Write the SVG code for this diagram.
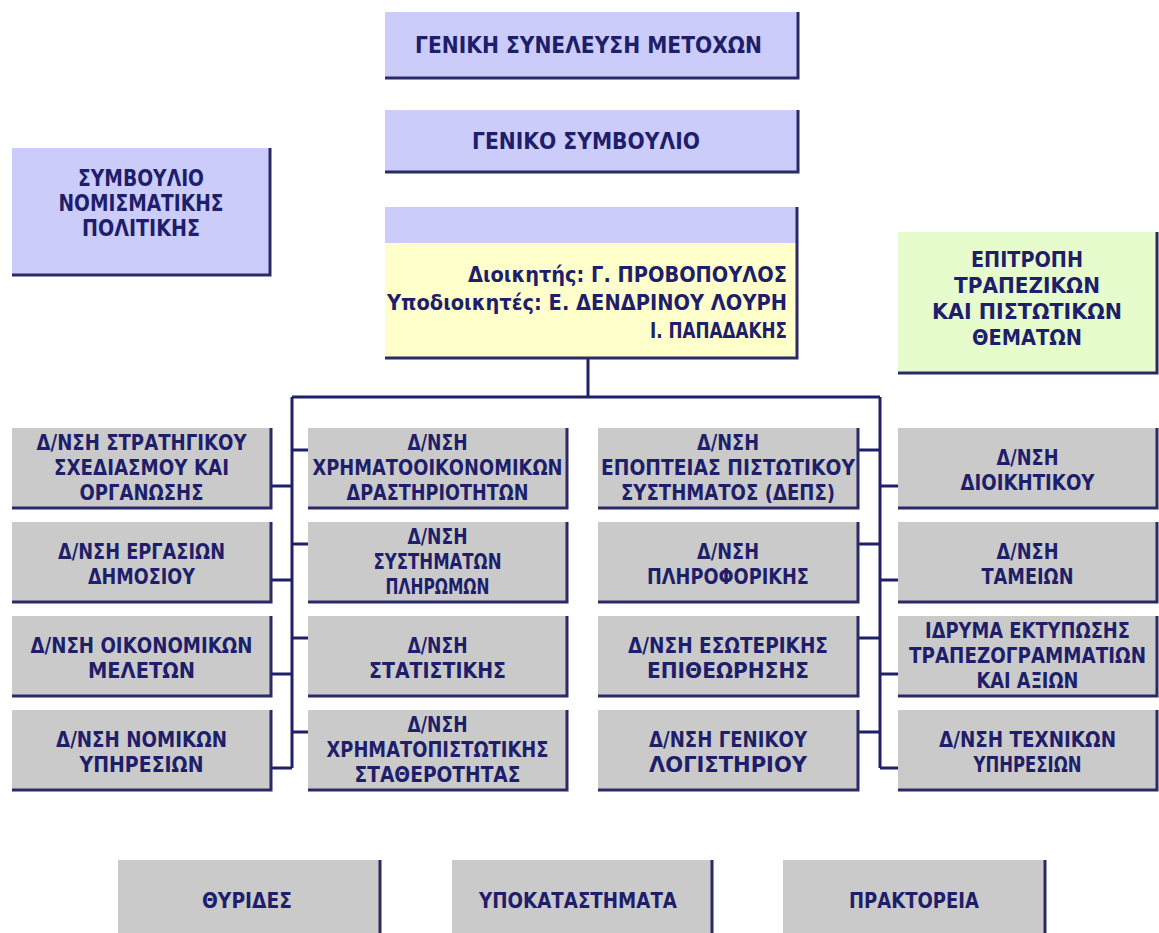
<svg xmlns="http://www.w3.org/2000/svg" width="1159" height="933" viewBox="0 0 1159 933">
<style>
.lav{fill:#ccccfb}
.gry{fill:#cacaca}
.yel{fill:#ffffcc}
.grn{fill:#e6fccd}
.sh{fill:none;stroke:#2a2a66;stroke-width:3}
.t{font-family:"DejaVu Sans","Liberation Sans",sans-serif;font-weight:bold;font-size:22px;fill:#1e1e6a}
.tb{font-size:23px}
.ts{font-size:21px}
.c{fill:none;stroke:#202068;stroke-width:3}
</style>
<rect width="1159" height="933" fill="#ffffff"/>

<g id="connectors">
<path class="c" d="M588,358 V397 M292,397 H880 M292,397 V768 M880,397 V768"/>
<path class="c" d="M271,486 H292 M271,580 H292 M271,674 H292 M271,768 H292"/>
<path class="c" d="M292,450 H308 M292,544 H308 M292,638 H308 M292,732 H308"/>
<path class="c" d="M858,450 H880 M858,544 H880 M858,638 H880 M858,732 H880"/>
<path class="c" d="M880,486 H898 M880,580 H898 M880,674 H898 M880,768 H898"/>
</g>

<g id="n-gsm">
<rect class="lav" x="385" y="12" width="413" height="66"/>
<path class="sh" d="M798,12 V78 H385"/>
<text class="t tb" x="415" y="53" textLength="347" lengthAdjust="spacingAndGlyphs">ΓΕΝΙΚΗ ΣΥΝΕΛΕΥΣΗ ΜΕΤΟΧΩΝ</text>
</g>

<g id="n-gs">
<rect class="lav" x="385" y="110" width="413" height="62"/>
<path class="sh" d="M798,110 V172 H385"/>
<text class="t tb" x="472" y="149" textLength="228" lengthAdjust="spacingAndGlyphs">ΓΕΝΙΚΟ ΣΥΜΒΟΥΛΙΟ</text>
</g>

<g id="n-snp">
<rect class="lav" x="12" y="148" width="258" height="127"/>
<path class="sh" d="M270,148 V275 H12"/>
<text class="t tb" x="78" y="186" textLength="126" lengthAdjust="spacingAndGlyphs">ΣΥΜΒΟΥΛΙΟ</text>
<text class="t tb" x="58.5" y="211" textLength="165" lengthAdjust="spacingAndGlyphs">ΝΟΜΙΣΜΑΤΙΚΗΣ</text>
<text class="t tb" x="82" y="236" textLength="118" lengthAdjust="spacingAndGlyphs">ΠΟΛΙΤΙΚΗΣ</text>
</g>

<g id="n-gov">
<rect class="yel" x="385" y="207" width="412" height="151"/>
<rect class="lav" x="385" y="207" width="412" height="36"/>
<path class="sh" d="M797,207 V358 H385"/>
<text class="t" x="468" y="282" textLength="319" lengthAdjust="spacingAndGlyphs">Διοικητής: Γ. ΠΡΟΒΟΠΟΥΛΟΣ</text>
<text class="t" x="387" y="310" textLength="400" lengthAdjust="spacingAndGlyphs">Υποδιοικητές: Ε. ΔΕΝΔΡΙΝΟΥ ΛΟΥΡΗ</text>
<text class="t" x="650" y="338" textLength="137" lengthAdjust="spacingAndGlyphs">Ι. ΠΑΠΑΔΑΚΗΣ</text>
</g>

<g id="n-epitr">
<rect class="grn" x="898" y="232" width="259" height="141"/>
<path class="sh" d="M1157,232 V373 H898"/>
<text class="t" x="971" y="267" textLength="112" lengthAdjust="spacingAndGlyphs">ΕΠΙΤΡΟΠΗ</text>
<text class="t" x="954" y="293" textLength="146" lengthAdjust="spacingAndGlyphs">ΤΡΑΠΕΖΙΚΩΝ</text>
<text class="t" x="932" y="319" textLength="190" lengthAdjust="spacingAndGlyphs">ΚΑΙ ΠΙΣΤΩΤΙΚΩΝ</text>
<text class="t" x="972" y="345" textLength="110" lengthAdjust="spacingAndGlyphs">ΘΕΜΑΤΩΝ</text>
</g>

<!-- column 1 -->
<g id="n-c1r1">
<rect class="gry" x="12" y="428" width="259" height="80"/>
<path class="sh" d="M271,428 V508 H12"/>
<text class="t" x="36.5" y="450" textLength="210" lengthAdjust="spacingAndGlyphs">Δ/ΝΣΗ ΣΤΡΑΤΗΓΙΚΟΥ</text>
<text class="t" x="54" y="475" textLength="175" lengthAdjust="spacingAndGlyphs">ΣΧΕΔΙΑΣΜΟΥ ΚΑΙ</text>
<text class="t" x="79.5" y="500" textLength="124" lengthAdjust="spacingAndGlyphs">ΟΡΓΑΝΩΣΗΣ</text>
</g>
<g id="n-c1r2">
<rect class="gry" x="12" y="522" width="259" height="80"/>
<path class="sh" d="M271,522 V602 H12"/>
<text class="t" x="58" y="559" textLength="167" lengthAdjust="spacingAndGlyphs">Δ/ΝΣΗ ΕΡΓΑΣΙΩΝ</text>
<text class="t" x="88" y="584" textLength="107" lengthAdjust="spacingAndGlyphs">ΔΗΜΟΣΙΟΥ</text>
</g>
<g id="n-c1r3">
<rect class="gry" x="12" y="616" width="259" height="80"/>
<path class="sh" d="M271,616 V696 H12"/>
<text class="t" x="30.5" y="653" textLength="222" lengthAdjust="spacingAndGlyphs">Δ/ΝΣΗ ΟΙΚΟΝΟΜΙΚΩΝ</text>
<text class="t" x="88" y="678" textLength="107" lengthAdjust="spacingAndGlyphs">ΜΕΛΕΤΩΝ</text>
</g>
<g id="n-c1r4">
<rect class="gry" x="12" y="710" width="259" height="80"/>
<path class="sh" d="M271,710 V790 H12"/>
<text class="t" x="56" y="747" textLength="171" lengthAdjust="spacingAndGlyphs">Δ/ΝΣΗ ΝΟΜΙΚΩΝ</text>
<text class="t" x="79.5" y="772" textLength="124" lengthAdjust="spacingAndGlyphs">ΥΠΗΡΕΣΙΩΝ</text>
</g>

<!-- column 2 -->
<g id="n-c2r1">
<rect class="gry" x="308" y="428" width="259" height="80"/>
<path class="sh" d="M567,428 V508 H308"/>
<text class="t" x="407.5" y="450" textLength="60" lengthAdjust="spacingAndGlyphs">Δ/ΝΣΗ</text>
<text class="t ts" x="312.5" y="475" textLength="250" lengthAdjust="spacingAndGlyphs">ΧΡΗΜΑΤΟΟΙΚΟΝΟΜΙΚΩΝ</text>
<text class="t" x="346.5" y="500" textLength="182" lengthAdjust="spacingAndGlyphs">ΔΡΑΣΤΗΡΙΟΤΗΤΩΝ</text>
</g>
<g id="n-c2r2">
<rect class="gry" x="308" y="522" width="259" height="80"/>
<path class="sh" d="M567,522 V602 H308"/>
<text class="t" x="407.5" y="544" textLength="60" lengthAdjust="spacingAndGlyphs">Δ/ΝΣΗ</text>
<text class="t" x="373.5" y="569" textLength="128" lengthAdjust="spacingAndGlyphs">ΣΥΣΤΗΜΑΤΩΝ</text>
<text class="t" x="385.5" y="594" textLength="104" lengthAdjust="spacingAndGlyphs">ΠΛΗΡΩΜΩΝ</text>
</g>
<g id="n-c2r3">
<rect class="gry" x="308" y="616" width="259" height="80"/>
<path class="sh" d="M567,616 V696 H308"/>
<text class="t" x="407.5" y="653" textLength="60" lengthAdjust="spacingAndGlyphs">Δ/ΝΣΗ</text>
<text class="t" x="369" y="678" textLength="137" lengthAdjust="spacingAndGlyphs">ΣΤΑΤΙΣΤΙΚΗΣ</text>
</g>
<g id="n-c2r4">
<rect class="gry" x="308" y="710" width="259" height="80"/>
<path class="sh" d="M567,710 V790 H308"/>
<text class="t" x="407.5" y="732" textLength="60" lengthAdjust="spacingAndGlyphs">Δ/ΝΣΗ</text>
<text class="t" x="326.5" y="757" textLength="222" lengthAdjust="spacingAndGlyphs">ΧΡΗΜΑΤΟΠΙΣΤΩΤΙΚΗΣ</text>
<text class="t" x="354.5" y="782" textLength="166" lengthAdjust="spacingAndGlyphs">ΣΤΑΘΕΡΟΤΗΤΑΣ</text>
</g>

<!-- column 3 -->
<g id="n-c3r1">
<rect class="gry" x="598" y="428" width="260" height="80"/>
<path class="sh" d="M858,428 V508 H598"/>
<text class="t" x="697" y="450" textLength="62" lengthAdjust="spacingAndGlyphs">Δ/ΝΣΗ</text>
<text class="t ts" x="601" y="475" textLength="254" lengthAdjust="spacingAndGlyphs">ΕΠΟΠΤΕΙΑΣ ΠΙΣΤΩΤΙΚΟΥ</text>
<text class="t" x="621" y="500" textLength="214" lengthAdjust="spacingAndGlyphs">ΣΥΣΤΗΜΑΤΟΣ (ΔΕΠΣ)</text>
</g>
<g id="n-c3r2">
<rect class="gry" x="598" y="522" width="260" height="80"/>
<path class="sh" d="M858,522 V602 H598"/>
<text class="t" x="697" y="559" textLength="62" lengthAdjust="spacingAndGlyphs">Δ/ΝΣΗ</text>
<text class="t" x="647" y="584" textLength="162" lengthAdjust="spacingAndGlyphs">ΠΛΗΡΟΦΟΡΙΚΗΣ</text>
</g>
<g id="n-c3r3">
<rect class="gry" x="598" y="616" width="260" height="80"/>
<path class="sh" d="M858,616 V696 H598"/>
<text class="t" x="628" y="653" textLength="200" lengthAdjust="spacingAndGlyphs">Δ/ΝΣΗ ΕΣΩΤΕΡΙΚΗΣ</text>
<text class="t" x="647" y="678" textLength="162" lengthAdjust="spacingAndGlyphs">ΕΠΙΘΕΩΡΗΣΗΣ</text>
</g>
<g id="n-c3r4">
<rect class="gry" x="598" y="710" width="260" height="80"/>
<path class="sh" d="M858,710 V790 H598"/>
<text class="t" x="649" y="747" textLength="158" lengthAdjust="spacingAndGlyphs">Δ/ΝΣΗ ΓΕΝΙΚΟΥ</text>
<text class="t" x="649" y="772" textLength="158" lengthAdjust="spacingAndGlyphs">ΛΟΓΙΣΤΗΡΙΟΥ</text>
</g>

<!-- column 4 -->
<g id="n-c4r1">
<rect class="gry" x="898" y="428" width="259" height="80"/>
<path class="sh" d="M1157,428 V508 H898"/>
<text class="t" x="996.5" y="465" textLength="62" lengthAdjust="spacingAndGlyphs">Δ/ΝΣΗ</text>
<text class="t" x="960.5" y="490" textLength="134" lengthAdjust="spacingAndGlyphs">ΔΙΟΙΚΗΤΙΚΟΥ</text>
</g>
<g id="n-c4r2">
<rect class="gry" x="898" y="522" width="259" height="80"/>
<path class="sh" d="M1157,522 V602 H898"/>
<text class="t" x="996.5" y="559" textLength="62" lengthAdjust="spacingAndGlyphs">Δ/ΝΣΗ</text>
<text class="t" x="981.5" y="584" textLength="92" lengthAdjust="spacingAndGlyphs">ΤΑΜΕΙΩΝ</text>
</g>
<g id="n-c4r3">
<rect class="gry" x="898" y="616" width="259" height="80"/>
<path class="sh" d="M1157,616 V696 H898"/>
<text class="t ts" x="925" y="638" textLength="205" lengthAdjust="spacingAndGlyphs">ΙΔΡΥΜΑ ΕΚΤΥΠΩΣΗΣ</text>
<text class="t ts" x="909" y="663" textLength="237" lengthAdjust="spacingAndGlyphs">ΤΡΑΠΕΖΟΓΡΑΜΜΑΤΙΩΝ</text>
<text class="t ts" x="976.5" y="688" textLength="102" lengthAdjust="spacingAndGlyphs">ΚΑΙ ΑΞΙΩΝ</text>
</g>
<g id="n-c4r4">
<rect class="gry" x="898" y="710" width="259" height="80"/>
<path class="sh" d="M1157,710 V790 H898"/>
<text class="t" x="939" y="747" textLength="177" lengthAdjust="spacingAndGlyphs">Δ/ΝΣΗ ΤΕΧΝΙΚΩΝ</text>
<text class="t" x="973.5" y="772" textLength="108" lengthAdjust="spacingAndGlyphs">ΥΠΗΡΕΣΙΩΝ</text>
</g>

<!-- bottom row -->
<g id="n-thyr">
<rect class="gry" x="118" y="860" width="262" height="80"/>
<path class="sh" d="M380,860 V940"/>
<text class="t" x="202" y="908" textLength="90" lengthAdjust="spacingAndGlyphs">ΘΥΡΙΔΕΣ</text>
</g>
<g id="n-ypok">
<rect class="gry" x="452" y="860" width="260" height="80"/>
<path class="sh" d="M712,860 V940"/>
<text class="t" x="479" y="908" textLength="198" lengthAdjust="spacingAndGlyphs">ΥΠΟΚΑΤΑΣΤΗΜΑΤΑ</text>
</g>
<g id="n-prakt">
<rect class="gry" x="783" y="860" width="262" height="80"/>
<path class="sh" d="M1045,860 V940"/>
<text class="t" x="849" y="908" textLength="130" lengthAdjust="spacingAndGlyphs">ΠΡΑΚΤΟΡΕΙΑ</text>
</g>
</svg>
